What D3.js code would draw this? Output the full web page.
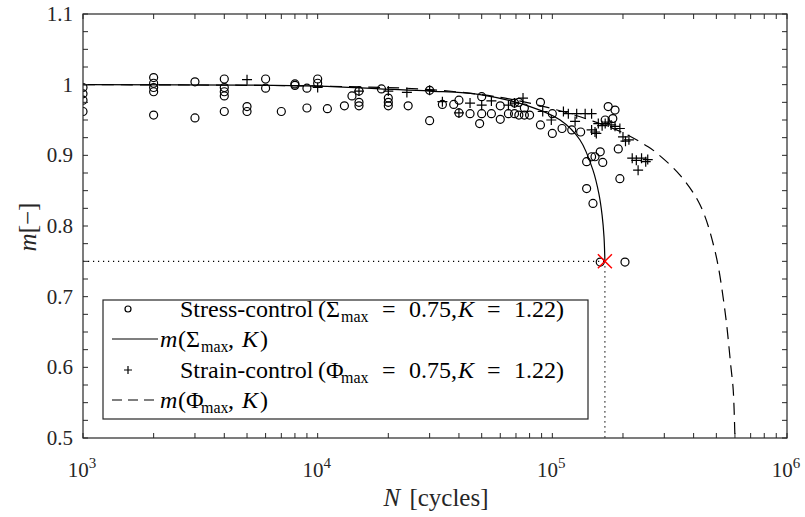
<!DOCTYPE html>
<html>
<head>
<meta charset="utf-8">
<script src="https://cdn.jsdelivr.net/npm/d3@7"></script>
<style>
  body { margin: 0; background: #fff; }
  svg { font-family: "Liberation Serif", "Times New Roman", serif; }
</style>
</head>
<body>
<svg id="chart" width="805" height="517"></svg>
<script>
// stress-control tests: [N, m]
var stressPoints = [
  [1000, 0.996], [1000, 0.987], [1000, 0.978], [1000, 0.962],
  [2000, 1.010], [2000, 1.002], [2000, 0.996], [2000, 0.990], [2000, 0.957],
  [3000, 1.004], [3000, 0.953],
  [4000, 1.008], [4000, 0.996], [4000, 0.990], [4000, 0.984], [4000, 0.962],
  [5000, 0.969], [5000, 0.962],
  [6000, 1.008], [6000, 0.995], [7000, 0.962],
  [8000, 1.001], [8000, 0.999], [9000, 0.995], [9000, 0.967],
  [10000, 1.008], [10000, 1.002], [11000, 0.966], [13000, 0.970], [14000, 0.984],
  [15000, 0.991], [15000, 0.975], [15000, 0.970], [18700, 0.994],
  [20000, 0.981], [20000, 0.975], [20000, 0.970], [24300, 0.970],
  [30000, 0.992], [30000, 0.949], [34000, 0.972], [38000, 0.972],
  [40000, 0.978], [40000, 0.960], [44600, 0.959], [49000, 0.945],
  [50000, 0.983], [50000, 0.959], [55000, 0.959], [60000, 0.970], [60000, 0.951],
  [65000, 0.959], [69000, 0.974], [69000, 0.959], [72000, 0.975], [72000, 0.957],
  [76000, 0.967], [76000, 0.957], [80000, 0.957], [89000, 0.975], [89000, 0.943],
  [100000, 0.959], [100000, 0.931], [110000, 0.938], [121000, 0.936], [132000, 0.933],
  [140000, 0.891], [140000, 0.853], [147000, 0.898], [149000, 0.832], [152000, 0.898],
  [160000, 0.905], [160000, 0.749], [164000, 0.890], [168000, 0.950],
  [173000, 0.969], [181000, 0.952], [185000, 0.964], [191000, 0.909],
  [194000, 0.867], [204000, 0.749]
];

// strain-control tests: [N, m]
var strainPoints = [
  [5000, 1.007], [10000, 0.996], [15000, 0.991], [20000, 0.991], [24000, 0.989],
  [30000, 0.992], [34000, 0.976], [40000, 0.960], [44600, 0.974], [50000, 0.971],
  [55000, 0.977], [65000, 0.971], [69000, 0.974], [75000, 0.981], [91000, 0.962],
  [99000, 0.950], [111500, 0.962], [117000, 0.959], [125000, 0.948], [127000, 0.959],
  [138000, 0.959], [147000, 0.959], [147000, 0.936], [152000, 0.933], [154000, 0.931],
  [157000, 0.945], [163000, 0.942], [168000, 0.945], [173000, 0.947], [178000, 0.943],
  [185000, 0.941], [194000, 0.938], [200000, 0.926], [205000, 0.920], [212000, 0.922],
  [219000, 0.896], [228000, 0.893], [232000, 0.879], [240000, 0.896], [250000, 0.891],
  [255000, 0.894]
];

// model curve m(Sigma_max, K)
var stressCurve = [
  [1000, 1.000], [10000, 0.998], [18400, 0.994], [30000, 0.991], [49200, 0.986],
  [80400, 0.969], [108000, 0.950], [131000, 0.922], [149000, 0.879],
  [158000, 0.845], [163000, 0.815], [166000, 0.785], [167500, 0.750]
];

// model curve m(Phi_max, K)
var strainCurve = [
  [1000, 1.000], [10000, 0.998], [30000, 0.993], [60000, 0.982], [100000, 0.966],
  [150000, 0.948], [200000, 0.932], [256000, 0.912], [279000, 0.903], [350000, 0.872],
  [426000, 0.830], [493000, 0.765], [544000, 0.680], [577000, 0.600],
  [590000, 0.568], [600000, 0.500]
];

var failurePoint = [167500, 0.75];

var yTickLabels = [0.5, 0.6, 0.7, 0.8, 0.9, 1, 1.1];
var xDecades = [1e3, 1e4, 1e5, 1e6];

drawChart();

function drawChart() {
  var svg = d3.select("#chart");
  var pLeft = 83, pRight = 787, pTop = 14, pBottom = 438;

  var x = d3.scaleLog().domain([1e3, 1e6]).range([pLeft, pRight]);
  var y = d3.scaleLinear().domain([0.5, 1.1]).range([pBottom, pTop]);

  svg.append("defs").append("clipPath").attr("id", "clip")
    .append("rect").attr("x", pLeft).attr("y", pTop)
    .attr("width", pRight - pLeft).attr("height", pBottom - pTop);

  var plot = svg.append("g").attr("clip-path", "url(#clip)");

  // dotted guide lines to the failure point
  plot.append("line")
    .attr("x1", pLeft).attr("x2", x(failurePoint[0]))
    .attr("y1", y(failurePoint[1])).attr("y2", y(failurePoint[1]))
    .attr("stroke", "#000").attr("stroke-width", 1.2).attr("stroke-dasharray", "1.2,3.8");
  plot.append("line")
    .attr("x1", x(failurePoint[0])).attr("x2", x(failurePoint[0]))
    .attr("y1", y(failurePoint[1])).attr("y2", pBottom)
    .attr("stroke", "#000").attr("stroke-width", 1.2).attr("stroke-dasharray", "1.2,3.8");

  var line = d3.line()
    .curve(d3.curveCatmullRom)
    .x(function (d) { return x(d[0]); })
    .y(function (d) { return y(d[1]); });

  plot.append("path").attr("d", line(stressCurve))
    .attr("fill", "none").attr("stroke", "#000").attr("stroke-width", 1.2);
  plot.append("path").attr("d", line(strainCurve))
    .attr("fill", "none").attr("stroke", "#000").attr("stroke-width", 1.2)
    .attr("stroke-dasharray", "12,7");

  // circles
  plot.selectAll("circle.stress").data(stressPoints).enter().append("circle")
    .attr("class", "stress")
    .attr("cx", function (d) { return x(d[0]); })
    .attr("cy", function (d) { return y(d[1]); })
    .attr("r", 4)
    .attr("fill", "none").attr("stroke", "#000").attr("stroke-width", 1.2);

  // pluses
  var plus = "M-5,0H5M0,-5V5";
  plot.selectAll("path.strain").data(strainPoints).enter().append("path")
    .attr("class", "strain")
    .attr("transform", function (d) { return "translate(" + x(d[0]) + "," + y(d[1]) + ")"; })
    .attr("d", plus)
    .attr("stroke", "#000").attr("stroke-width", 1.2);

  // red cross at failure
  plot.append("path")
    .attr("transform", "translate(" + x(failurePoint[0]) + "," + y(failurePoint[1]) + ")")
    .attr("d", "M-7,-7L7,7M-7,7L7,-7")
    .attr("stroke", "#ff0000").attr("stroke-width", 1.5);

  // axes box and ticks (inward, both sides)
  var axisColor = "#262626";
  var tickLen = 5;
  var g = svg.append("g").attr("stroke", axisColor).attr("stroke-width", 1);

  var yTicks = d3.range(0, 25).map(function (i) { return 0.5 + i * 0.025; });
  yTicks.forEach(function (v) {
    g.append("line").attr("x1", pLeft).attr("x2", pLeft + tickLen).attr("y1", y(v)).attr("y2", y(v));
    g.append("line").attr("x1", pRight).attr("x2", pRight - tickLen).attr("y1", y(v)).attr("y2", y(v));
  });

  var xTicks = [];
  xDecades.slice(0, 3).forEach(function (dec) {
    for (var k = 1; k <= 9; k++) xTicks.push(dec * k);
  });
  xTicks.push(1e6);
  xTicks.forEach(function (v) {
    g.append("line").attr("x1", x(v)).attr("x2", x(v)).attr("y1", pBottom).attr("y2", pBottom - tickLen);
    g.append("line").attr("x1", x(v)).attr("x2", x(v)).attr("y1", pTop).attr("y2", pTop + tickLen);
  });

  svg.append("rect").attr("x", pLeft).attr("y", pTop)
    .attr("width", pRight - pLeft).attr("height", pBottom - pTop)
    .attr("fill", "none").attr("stroke", axisColor).attr("stroke-width", 1.2);

  // tick labels
  svg.selectAll("text.ylab").data(yTickLabels).enter().append("text")
    .attr("class", "ylab")
    .attr("x", pLeft - 10).attr("y", function (d) { return y(d) + 7; })
    .attr("text-anchor", "end").attr("font-size", 21).attr("fill", "#262626")
    .text(function (d) { return d; });

  xDecades.forEach(function (d) {
    var t = svg.append("text").attr("x", x(d) - 1).attr("y", 477)
      .attr("text-anchor", "middle").attr("font-size", 21).attr("fill", "#262626");
    t.append("tspan").text("10");
    t.append("tspan").attr("dy", -9).attr("font-size", 15).text(Math.log10(d));
  });

  // axis titles
  var xt = svg.append("text").attr("x", 436).attr("y", 506)
    .attr("text-anchor", "middle").attr("font-size", 25).attr("word-spacing", 3)
    .attr("fill", "#262626");
  xt.append("tspan").attr("font-style", "italic").text("N");
  xt.append("tspan").text(" [cycles]");

  var yt = svg.append("text").attr("transform", "translate(36,227) rotate(-90)")
    .attr("text-anchor", "middle").attr("font-size", 25).attr("fill", "#262626");
  yt.append("tspan").attr("font-style", "italic").text("m");
  yt.append("tspan").text("[\u2212]");

  // legend
  var lg = svg.append("g");
  lg.append("rect").attr("x", 103).attr("y", 300).attr("width", 485).attr("height", 119)
    .attr("fill", "#fff").attr("stroke", axisColor).attr("stroke-width", 1.2);

  var rowY = [309, 339, 370, 400];
  var fs = 24;

  lg.append("circle").attr("cx", 128).attr("cy", rowY[0]).attr("r", 3)
    .attr("fill", "none").attr("stroke", "#000").attr("stroke-width", 1.2);
  lg.append("line").attr("x1", 112).attr("x2", 158).attr("y1", rowY[1]).attr("y2", rowY[1])
    .attr("stroke", "#000").attr("stroke-width", 1.2);
  lg.append("path").attr("transform", "translate(128," + rowY[2] + ")").attr("d", "M-4,0H4M0,-4V4")
    .attr("stroke", "#000").attr("stroke-width", 1.2);
  lg.append("line").attr("x1", 112).attr("x2", 158).attr("y1", rowY[3]).attr("y2", rowY[3])
    .attr("stroke", "#000").attr("stroke-width", 1.2).attr("stroke-dasharray", "10,6");

  // pieces of a legend line: [text, x, style]; style: "i" italic, "s" subscript
  function seg(t, base, parts) {
    parts.forEach(function (p) {
      var s = t.append("tspan").attr("x", p[1]).attr("y", base).text(p[0]);
      if (p[2] === "i") s.attr("font-style", "italic");
      if (p[2] === "s") s.attr("font-size", 16).attr("y", base + 5);
    });
  }

  function dataRow(row, label, sym) {
    var base = rowY[row] + 8;
    var t = lg.append("text").attr("font-size", fs);
    seg(t, base, [
      [label, 180], ["(", 318], [sym, 326], ["max", 341, "s"], ["=", 382],
      ["0.75,", 409], ["K", 458, "i"], ["=", 487], ["1.22)", 514]
    ]);
  }
  function curveRow(row, sym) {
    var base = rowY[row] + 8;
    var t = lg.append("text").attr("font-size", fs);
    seg(t, base, [
      ["m", 160, "i"], ["(", 178], [sym, 186], ["max", 201, "s"], [",", 228],
      ["K", 242, "i"], [")", 260]
    ]);
  }

  dataRow(0, "Stress-control", "\u03A3");
  curveRow(1, "\u03A3");
  dataRow(2, "Strain-control", "\u03A6");
  curveRow(3, "\u03A6");
}
</script>
</body>
</html>
